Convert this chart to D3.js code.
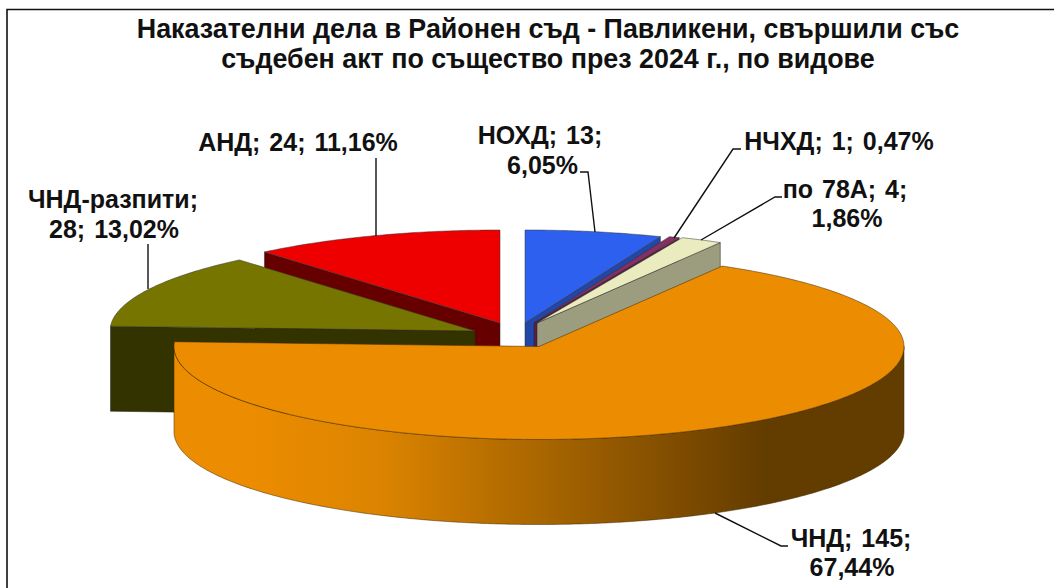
<!DOCTYPE html>
<html><head><meta charset="utf-8">
<script src="https://cdn.jsdelivr.net/npm/d3@7"></script>
<style>html,body{margin:0;padding:0;background:#fff}svg{display:block}
text{font-family:"Liberation Sans",Arial,sans-serif;font-weight:bold;fill:#111}</style>
</head><body><svg id="c" width="1054" height="588"></svg>
<script>
const titleLines = ["Наказателни дела в Районен съд - Павликени, свършили със","съдебен акт по същество през 2024 г., по видове"];
const categories = ["НОХД","НЧХД","по 78А","ЧНД","ЧНД-разпити","АНД"];
const values = [13,1,4,145,28,24];

// layout and style, kept apart from the data
const RX=365, RY=93, DEPTH=85;
const centres = [[525,323],[534,323],[537,323],[539,346.5],[475,331],[500,323]];
const topFill = ["#2D60EE","#843060","#EBEBC0","#EC8C00","#757500","#EE0000"];
const wallFill = ["#2347A8","#5A1F42","#9C9C7E","url(#wall)","#333300","#660000"];
const drawOrder = [5,0,1,2,4,3];
const labelBreaks = [
  {anchor:[540,542.5],base:[144,174],split:2},
  {anchor:[839],base:[150],split:3},
  {anchor:[845,847],base:[198,227],split:2},
  {anchor:[851,852],base:[547,576],split:2},
  {anchor:[113,114],base:[208,238],split:1},
  {anchor:[298],base:[151],split:3}
];
const leaders = [
  [[580,172],[588,172],[595,232]],
  [[741,149],[733,149],[674,238]],
  [[782,197],[775,197],[701,240]],
  [[715,513],[781,546],[788,546]],
  [[148,244],[148,289]],
  [[376,158],[376,236]]
];

const svg=d3.select("#c");
const total=d3.sum(values);
const arcs=d3.pie().sort(null).value(d=>d)(values);
const pctFmt=v=>d3.format(".2f")(v/total*100).replace(".",",")+"%";

const grad=svg.append("defs").append("linearGradient").attr("id","wall")
  .attr("gradientUnits","userSpaceOnUse").attr("x1",250).attr("x2",765).attr("y1",0).attr("y2",0);
grad.append("stop").attr("offset",0).attr("stop-color","#EC8C00");
grad.append("stop").attr("offset",0.25).attr("stop-color","#DC8400");
grad.append("stop").attr("offset",1).attr("stop-color","#633C00");

svg.append("path").attr("d","M7,588V9.5H1054").attr("fill","none").attr("stroke","#111").attr("stroke-width",1.6);

const line=d3.line();
const pt=(c,a,dz=0)=>[c[0]+RX*Math.sin(a),c[1]-RY*Math.cos(a)+dz];
const sweep=(a0,a1)=>{const n=Math.max(2,Math.ceil(Math.abs(a1-a0)/0.01));return d3.range(n+1).map(i=>a0+(a1-a0)*i/n);};

drawOrder.forEach(i=>{
  const a=arcs[i],c=centres[i];
  const g=svg.append("g");
  const stroke=i===3?"#3a2400":"#222";
  // cut faces: only those turned toward the viewer
  const faces=[];
  if(Math.sin(a.startAngle)<-1e-6) faces.push(a.startAngle);
  if(Math.sin(a.endAngle)>1e-6) faces.push(a.endAngle);
  faces.forEach(t=>{
    const p=pt(c,t);
    g.append("path").attr("d",line([c,p,[p[0],p[1]+DEPTH],[c[0],c[1]+DEPTH]])+"Z")
      .attr("fill",wallFill[i]).attr("stroke",stroke).attr("stroke-width",0.5);
  });
  // outer wall: only the front half of the rim is visible
  const lo=Math.max(a.startAngle,Math.PI/2),hi=Math.min(a.endAngle,Math.PI*1.5);
  if(hi>lo){
    const ang=sweep(lo,hi);
    const poly=ang.map(t=>pt(c,t)).concat(ang.slice().reverse().map(t=>pt(c,t,DEPTH)));
    g.append("path").attr("d",line(poly)+"Z").attr("fill",wallFill[i]).attr("stroke",stroke).attr("stroke-width",0.5);
  }
  const rim=sweep(a.startAngle,a.endAngle).map(t=>pt(c,t));
  g.append("path").attr("d",line([c,...rim])+"Z").attr("fill",topFill[i])
    .attr("stroke",i===3?"#3a2400":"#333").attr("stroke-width",0.5);
});

leaders.forEach(l=>svg.append("path").attr("d",line(l)).attr("fill","none").attr("stroke","#111").attr("stroke-width",1.4));

titleLines.forEach((t,k)=>svg.append("text").attr("x",548).attr("y",38+k*30)
  .attr("text-anchor","middle").attr("font-size",26.85).text(t));

categories.forEach((name,i)=>{
  const parts=[name+";",values[i]+";",pctFmt(values[i])];
  const b=labelBreaks[i];
  const lines=[parts.slice(0,b.split).join(" "),parts.slice(b.split).join(" ")].filter(s=>s);
  lines.forEach((s,k)=>svg.append("text").attr("x",b.anchor[k]).attr("y",b.base[k])
    .attr("text-anchor","middle").attr("font-size",25).attr("word-spacing",2).text(s));
});
</script></body></html>
